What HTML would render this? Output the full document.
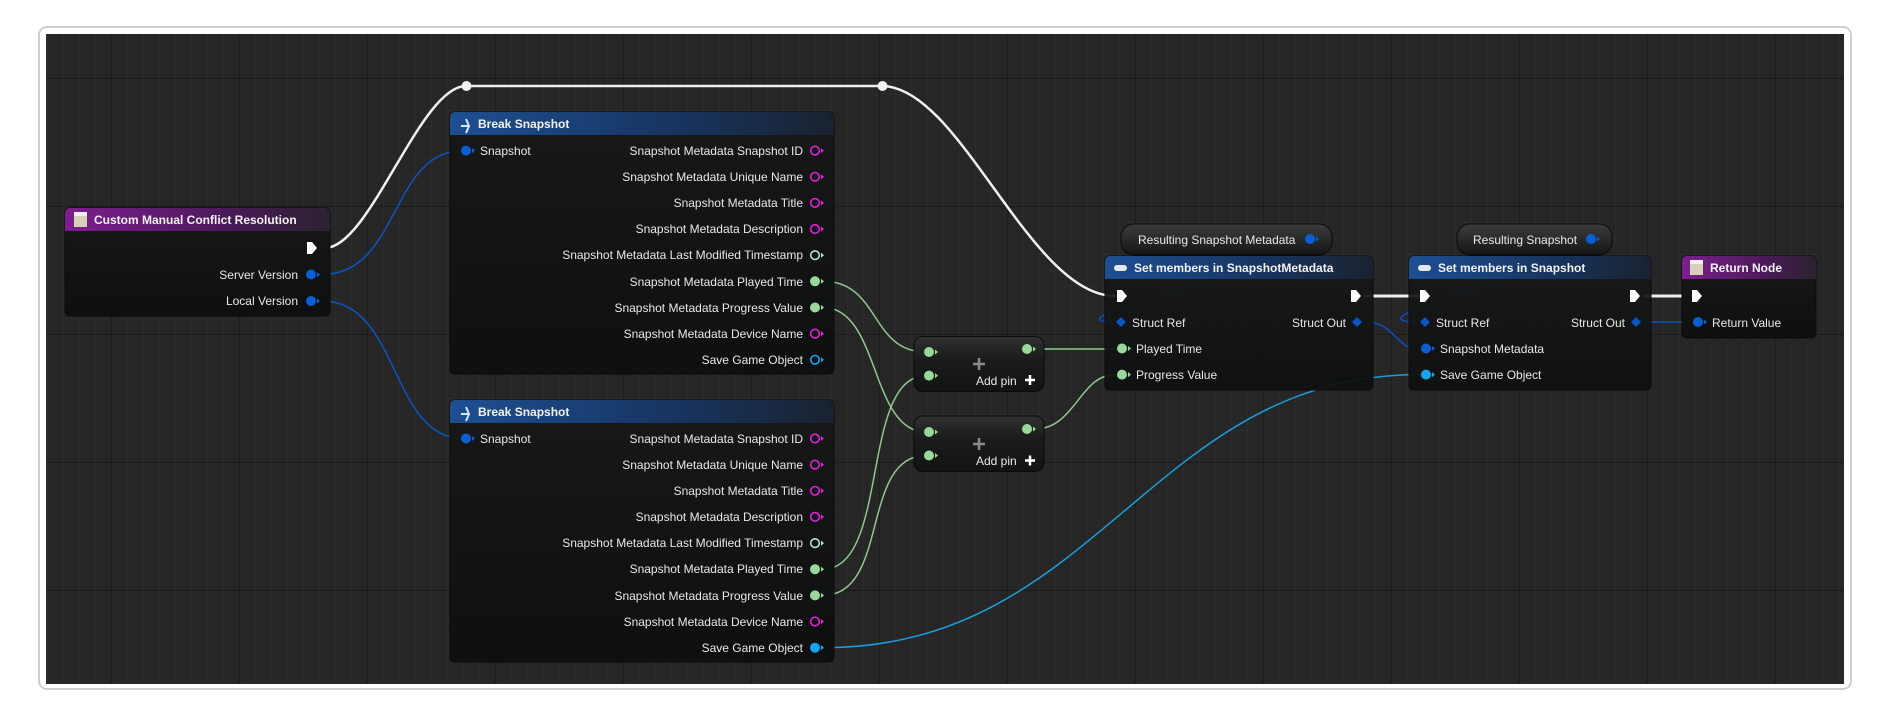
<!DOCTYPE html>
<html><head><meta charset="utf-8"><style>
html,body{margin:0;padding:0;background:#fff;width:1890px;height:720px;overflow:hidden}
svg text{font-family:"Liberation Sans",sans-serif;font-size:12px;fill:#e8e8e8}
.h{font-weight:bold;fill:#f2f2f2}
</style></head><body>
<svg width="1890" height="720" viewBox="0 0 1890 720" xmlns="http://www.w3.org/2000/svg">
<defs>
<pattern id="minor" x="111.5" y="78" width="16" height="16" patternUnits="userSpaceOnUse"><path d="M0 0H16M0 0V16" stroke="#303030" stroke-width="1" fill="none"/></pattern>
<pattern id="major" x="111.5" y="78" width="128" height="128" patternUnits="userSpaceOnUse"><path d="M0 0H128M0 0V128" stroke="#141414" stroke-width="1.2" fill="none"/></pattern>
<linearGradient id="body" x1="0" y1="0" x2="0" y2="1"><stop offset="0" stop-color="#171818"/><stop offset="1" stop-color="#0e0f0f"/></linearGradient>
<linearGradient id="blue" x1="0" y1="0" x2="1" y2="0"><stop offset="0" stop-color="#1d4f93"/><stop offset="0.6" stop-color="#17345e"/><stop offset="1" stop-color="#1a2230"/></linearGradient>
<linearGradient id="purple" x1="0" y1="0" x2="1" y2="0"><stop offset="0" stop-color="#7d1e90"/><stop offset="0.6" stop-color="#4c1a5a"/><stop offset="1" stop-color="#2a2230"/></linearGradient>
<linearGradient id="pill" x1="0" y1="0" x2="0" y2="1"><stop offset="0" stop-color="#3c3d3d"/><stop offset="1" stop-color="#141515"/></linearGradient>
<linearGradient id="make" x1="0" y1="0" x2="0" y2="1"><stop offset="0" stop-color="#303131"/><stop offset="0.4" stop-color="#1b1c1c"/><stop offset="1" stop-color="#121313"/></linearGradient>
</defs>
<rect x="39" y="27" width="1812" height="662" rx="8" fill="#fff" stroke="#cfcfcf" stroke-width="2"/>
<rect x="46" y="34" width="1798" height="650" fill="#262626"/>
<rect x="46" y="34" width="1798" height="650" fill="url(#minor)"/>
<rect x="46" y="34" width="1798" height="650" fill="url(#major)"/>

<!-- wires -->
<g fill="none" stroke-linecap="round">
<path d="M325 248 C370 248 420 86 466 86 L882 86 C960 86 1030 296 1115 296" stroke="#f0f0f0" stroke-width="2.5"/>
<path d="M1365 296 H1418 M1645 296 H1690" stroke="#f0f0f0" stroke-width="3"/>
<path d="M322 274.5 C400 274.5 390 150.6 463 150.6" stroke="#0a55c8" stroke-width="1.5"/>
<path d="M322 301 C400 301 390 438.5 463 438.5" stroke="#0a55c8" stroke-width="1.5"/>
<g stroke="#8ec98e" stroke-width="1.5">
<path d="M823 281.3 C880 281.3 870 352 926 352"/>
<path d="M823 307.5 C880 307.5 870 432 926 432"/>
<path d="M823 569.2 C890 569.2 860 375.6 926 375.6"/>
<path d="M823 595.4 C890 595.4 860 455.5 926 455.5"/>
<path d="M1035 349 H1115"/>
<path d="M1035 429 C1075 429 1080 374.6 1115 374.6"/>
</g>
<path d="M823 647.7 C1100 647.7 1150 374.6 1420 374.6" stroke="#1a9ee0" stroke-width="1.5"/>
<g stroke="#0a50c0" stroke-width="1.5">
<path d="M1310 239 C1400 239 1020 322 1115 322"/>
<path d="M1591 239 C1680 239 1320 322 1418 322"/>
<path d="M1365 322 C1395 322 1395 348.5 1418 348.5"/>
<path d="M1645 322 H1690"/>
</g>
</g>
<circle cx="466.5" cy="86" r="5" fill="#f0f0f0"/>
<circle cx="882.5" cy="86" r="5" fill="#f0f0f0"/>

<!-- Custom Manual Conflict Resolution -->
<rect x="65" y="208" width="265" height="108" rx="5" fill="url(#body)" stroke="#0a0a0a"/>
<path d="M70 208 H325 a5 5 0 0 1 5 5 V231 H65 V213 a5 5 0 0 1 5-5z" fill="url(#purple)"/>
<rect x="74" y="212" width="13" height="15" fill="#d8d0b8"/><rect x="74" y="212" width="13" height="4" fill="#f0f0f0"/>
<text class="h" x="94" y="224">Custom Manual Conflict Resolution</text>
<path d="M307 242 h5 l5 6 l-5 6 h-5z" fill="#fff"/>
<text x="298" y="279" text-anchor="end">Server Version</text>
<circle cx="311" cy="274.5" r="5" fill="#0a5fd6"/><path d="M317 272 l3 2.5 l-3 2.5z" fill="#0a5fd6"/>
<text x="298" y="305" text-anchor="end">Local Version</text>
<circle cx="311" cy="301" r="5" fill="#0a5fd6"/><path d="M317 298.5 l3 2.5 l-3 2.5z" fill="#0a5fd6"/>

<!-- Break Snapshot 1 -->
<g>
<rect x="450" y="112" width="384" height="262" rx="5" fill="url(#body)" stroke="#0a0a0a"/>
<path d="M455 112 H829 a5 5 0 0 1 5 5 V135 H450 V117 a5 5 0 0 1 5-5z" fill="url(#blue)"/>
<path d="M461 126 h8 M466 119 l3 7 l-3 7" stroke="#d8e4f8" stroke-width="2" fill="none"/>
<text class="h" x="478" y="128">Break Snapshot</text>
<circle cx="466" cy="150.6" r="5" fill="#0a5fd6"/><path d="M472 148 l3 2.6 l-3 2.6z" fill="#0a5fd6"/>
<text x="480" y="155">Snapshot</text>
</g>
<g text-anchor="end">
<text x="803" y="155">Snapshot Metadata Snapshot ID</text>
<text x="803" y="181">Snapshot Metadata Unique Name</text>
<text x="803" y="207">Snapshot Metadata Title</text>
<text x="803" y="233">Snapshot Metadata Description</text>
<text x="803" y="259">Snapshot Metadata Last Modified Timestamp</text>
<text x="803" y="286">Snapshot Metadata Played Time</text>
<text x="803" y="312">Snapshot Metadata Progress Value</text>
<text x="803" y="338">Snapshot Metadata Device Name</text>
<text x="803" y="364">Save Game Object</text>
</g>
<g fill="none" stroke-width="1.6">
<circle cx="815" cy="150.6" r="4.3" stroke="#e21fdc"/><circle cx="815" cy="176.8" r="4.3" stroke="#e21fdc"/>
<circle cx="815" cy="202.9" r="4.3" stroke="#e21fdc"/><circle cx="815" cy="229" r="4.3" stroke="#e21fdc"/>
<circle cx="815" cy="255.2" r="4.3" stroke="#b8e6c4"/>
<circle cx="815" cy="333.6" r="4.3" stroke="#e21fdc"/><circle cx="815" cy="359.8" r="4.3" stroke="#12a6f2"/>
</g>
<circle cx="815" cy="281.3" r="5" fill="#98d898"/><circle cx="815" cy="307.5" r="5" fill="#98d898"/>
<g fill="#e21fdc"><path d="M821 148 l3 2.6 l-3 2.6z M821 174.2 l3 2.6 l-3 2.6z M821 200.3 l3 2.6 l-3 2.6z M821 226.4 l3 2.6 l-3 2.6z M821 331 l3 2.6 l-3 2.6z"/></g>
<path d="M821 252.6 l3 2.6 l-3 2.6z" fill="#b8e6c4"/><path d="M821 278.7 l3 2.6 l-3 2.6z M821 304.9 l3 2.6 l-3 2.6z" fill="#98d898"/><path d="M821 357.2 l3 2.6 l-3 2.6z" fill="#12a6f2"/>

<!-- Break Snapshot 2 -->
<rect x="450" y="400" width="384" height="262" rx="5" fill="url(#body)" stroke="#0a0a0a"/>
<path d="M455 400 H829 a5 5 0 0 1 5 5 V423 H450 V405 a5 5 0 0 1 5-5z" fill="url(#blue)"/>
<path d="M461 414 h8 M466 407 l3 7 l-3 7" stroke="#d8e4f8" stroke-width="2" fill="none"/>
<text class="h" x="478" y="416">Break Snapshot</text>
<circle cx="466" cy="438.5" r="5" fill="#0a5fd6"/><path d="M472 436 l3 2.5 l-3 2.5z" fill="#0a5fd6"/>
<text x="480" y="443">Snapshot</text>
<g text-anchor="end">
<text x="803" y="443">Snapshot Metadata Snapshot ID</text>
<text x="803" y="469">Snapshot Metadata Unique Name</text>
<text x="803" y="495">Snapshot Metadata Title</text>
<text x="803" y="521">Snapshot Metadata Description</text>
<text x="803" y="547">Snapshot Metadata Last Modified Timestamp</text>
<text x="803" y="573">Snapshot Metadata Played Time</text>
<text x="803" y="600">Snapshot Metadata Progress Value</text>
<text x="803" y="626">Snapshot Metadata Device Name</text>
<text x="803" y="652">Save Game Object</text>
</g>
<g fill="none" stroke-width="1.6">
<circle cx="815" cy="438.5" r="4.3" stroke="#e21fdc"/><circle cx="815" cy="464.6" r="4.3" stroke="#e21fdc"/>
<circle cx="815" cy="490.8" r="4.3" stroke="#e21fdc"/><circle cx="815" cy="516.9" r="4.3" stroke="#e21fdc"/>
<circle cx="815" cy="543.1" r="4.3" stroke="#b8e6c4"/><circle cx="815" cy="621.5" r="4.3" stroke="#e21fdc"/>
</g>
<circle cx="815" cy="569.2" r="5" fill="#98d898"/><circle cx="815" cy="595.4" r="5" fill="#98d898"/><circle cx="815" cy="647.7" r="5" fill="#12a6f2"/>
<path d="M821 436 l3 2.5 l-3 2.5z M821 462 l3 2.6 l-3 2.6z M821 488.2 l3 2.6 l-3 2.6z M821 514.3 l3 2.6 l-3 2.6z M821 619 l3 2.5 l-3 2.5z" fill="#e21fdc"/>
<path d="M821 540.5 l3 2.6 l-3 2.6z" fill="#b8e6c4"/><path d="M821 566.6 l3 2.6 l-3 2.6z M821 592.8 l3 2.6 l-3 2.6z" fill="#98d898"/><path d="M821 645.1 l3 2.6 l-3 2.6z" fill="#12a6f2"/>

<!-- Make nodes -->
<g>
<rect x="914" y="336.5" width="130" height="55" rx="9" fill="url(#make)" stroke="#0a0a0a"/>
<circle cx="929" cy="352" r="5" fill="#98d898"/><path d="M935 349.5 l3 2.5 l-3 2.5z" fill="#98d898"/>
<circle cx="929" cy="375.6" r="5" fill="#98d898"/><path d="M935 373 l3 2.6 l-3 2.6z" fill="#98d898"/>
<circle cx="1027" cy="349" r="5" fill="#98d898"/><path d="M1033 346.5 l3 2.5 l-3 2.5z" fill="#98d898"/>
<path d="M979 358 v12 M973 364 h12" stroke="#8a8a8a" stroke-width="2.5"/>
<text x="976" y="385">Add pin</text>
<path d="M1030 375 v10 M1025 380 h10" stroke="#fff" stroke-width="2.5"/>
</g>
<g>
<rect x="914" y="416" width="130" height="55.5" rx="9" fill="url(#make)" stroke="#0a0a0a"/>
<circle cx="929" cy="432" r="5" fill="#98d898"/><path d="M935 429.5 l3 2.5 l-3 2.5z" fill="#98d898"/>
<circle cx="929" cy="455.5" r="5" fill="#98d898"/><path d="M935 453 l3 2.5 l-3 2.5z" fill="#98d898"/>
<circle cx="1027" cy="429" r="5" fill="#98d898"/><path d="M1033 426.5 l3 2.5 l-3 2.5z" fill="#98d898"/>
<path d="M979 438 v12 M973 444 h12" stroke="#8a8a8a" stroke-width="2.5"/>
<text x="976" y="465">Add pin</text>
<path d="M1030 455.5 v10 M1025 460.5 h10" stroke="#fff" stroke-width="2.5"/>
</g>

<!-- Variable gets -->
<rect x="1121" y="224" width="211" height="31" rx="13" fill="url(#pill)" stroke="#0a0a0a"/>
<text x="1138" y="244">Resulting Snapshot Metadata</text>
<circle cx="1310" cy="239" r="5" fill="#0a5fd6"/><path d="M1316 236.5 l3 2.5 l-3 2.5z" fill="#0a5fd6"/>
<rect x="1457" y="224" width="155" height="31" rx="13" fill="url(#pill)" stroke="#0a0a0a"/>
<text x="1473" y="244">Resulting Snapshot</text>
<circle cx="1591" cy="239" r="5" fill="#0a5fd6"/><path d="M1597 236.5 l3 2.5 l-3 2.5z" fill="#0a5fd6"/>

<!-- Set members in SnapshotMetadata -->
<rect x="1105" y="256" width="268" height="134" rx="5" fill="url(#body)" stroke="#0a0a0a" fill-opacity="0.93"/>
<path d="M1110 256 H1368 a5 5 0 0 1 5 5 V279 H1105 V261 a5 5 0 0 1 5-5z" fill="url(#blue)"/>
<rect x="1114" y="265" width="13" height="6" rx="3" fill="#e8e8e8"/>
<text class="h" x="1134" y="272">Set members in SnapshotMetadata</text>
<path d="M1117 290 h5 l5 6 l-5 6 h-5z" fill="#fff"/>
<path d="M1351 290 h5 l5 6 l-5 6 h-5z" fill="#fff"/>
<path d="M1121 317 l5 5 l-5 5 l-5 -5z" fill="#0a55c8"/>
<text x="1132" y="327">Struct Ref</text>
<text x="1346" y="327" text-anchor="end">Struct Out</text>
<path d="M1357 317 l5 5 l-5 5 l-5 -5z" fill="#0a55c8"/>
<circle cx="1122" cy="348.5" r="5" fill="#98d898"/><path d="M1128 346 l3 2.5 l-3 2.5z" fill="#98d898"/>
<text x="1136" y="353">Played Time</text>
<circle cx="1122" cy="374.6" r="5" fill="#98d898"/><path d="M1128 372 l3 2.6 l-3 2.6z" fill="#98d898"/>
<text x="1136" y="379">Progress Value</text>

<!-- Set members in Snapshot -->
<rect x="1409" y="256" width="242" height="134" rx="5" fill="url(#body)" stroke="#0a0a0a" fill-opacity="0.93"/>
<path d="M1414 256 H1646 a5 5 0 0 1 5 5 V279 H1409 V261 a5 5 0 0 1 5-5z" fill="url(#blue)"/>
<rect x="1418" y="265" width="13" height="6" rx="3" fill="#e8e8e8"/>
<text class="h" x="1438" y="272">Set members in Snapshot</text>
<path d="M1420 290 h5 l5 6 l-5 6 h-5z" fill="#fff"/>
<path d="M1630 290 h5 l5 6 l-5 6 h-5z" fill="#fff"/>
<path d="M1425 317 l5 5 l-5 5 l-5 -5z" fill="#0a55c8"/>
<text x="1436" y="327">Struct Ref</text>
<text x="1625" y="327" text-anchor="end">Struct Out</text>
<path d="M1636 317 l5 5 l-5 5 l-5 -5z" fill="#0a55c8"/>
<circle cx="1426" cy="348.5" r="5" fill="#0a5fd6"/><path d="M1432 346 l3 2.5 l-3 2.5z" fill="#0a5fd6"/>
<text x="1440" y="353">Snapshot Metadata</text>
<circle cx="1426" cy="374.6" r="5" fill="#12a6f2"/><path d="M1432 372 l3 2.6 l-3 2.6z" fill="#12a6f2"/>
<text x="1440" y="379">Save Game Object</text>

<!-- Return Node -->
<rect x="1682" y="256" width="134" height="82" rx="5" fill="url(#body)" stroke="#0a0a0a"/>
<path d="M1687 256 H1811 a5 5 0 0 1 5 5 V279 H1682 V261 a5 5 0 0 1 5-5z" fill="url(#purple)"/>
<rect x="1690" y="260" width="13" height="15" fill="#d8d0b8"/><rect x="1690" y="260" width="13" height="4" fill="#f0f0f0"/>
<text class="h" x="1710" y="272">Return Node</text>
<path d="M1692 290 h5 l5 6 l-5 6 h-5z" fill="#fff"/>
<circle cx="1698" cy="322" r="5" fill="#0a5fd6"/><path d="M1704 319.5 l3 2.5 l-3 2.5z" fill="#0a5fd6"/>
<text x="1712" y="327">Return Value</text>
</svg>
</body></html>
